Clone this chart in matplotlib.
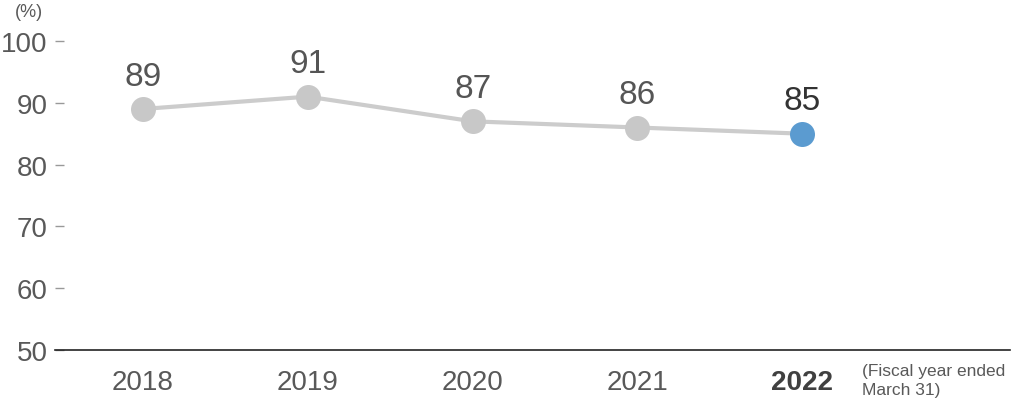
import matplotlib
matplotlib.use('Agg')
import matplotlib.pyplot as plt

# Datos
years = ['2018', '2019', '2020', '2021', '2022']
values = [89, 91, 87, 86, 85]
yticks = [50, 60, 70, 80, 90, 100]

plt.rcParams['font.family'] = ['Liberation Sans', 'DejaVu Sans']

grey_txt = '#595959'
fig = plt.figure(figsize=(10.14, 4.10), dpi=100)
ax = fig.add_axes([55 / 1014, 59 / 410, 955 / 1014, 309 / 410])

xs = list(range(len(years)))
ax.plot(xs, values, color='#cccccc', lw=3, zorder=2)
colors = ['#c8c8c8'] * (len(years) - 1) + ['#5b9bd0']
for x, v, c in zip(xs, values, colors):
    ax.plot(x, v, 'o', ms=18, color=c, mec='none', zorder=3)
    last = x == len(years) - 1
    ax.annotate(str(v), (x, v), xytext=(0, 12.5), textcoords='offset points',
                ha='center', va='bottom', fontsize=24,
                color='#333333' if last else '#555555')

ax.set_xlim(-0.534, 5.26)
ax.set_ylim(50, 100)
ax.set_yticks(yticks)
ax.tick_params(axis='y', direction='in', length=6.5, width=1, color='#999999',
               labelsize=20, labelcolor=grey_txt, pad=5.5)
ax.set_xticks(xs)
ax.set_xticklabels(years)
ax.tick_params(axis='x', length=0, labelsize=20, labelcolor=grey_txt, pad=14)
lbl = ax.get_xticklabels()[-1]
lbl.set_fontweight('bold')
lbl.set_color('#404040')

for s in ['left', 'top', 'right']:
    ax.spines[s].set_visible(False)
ax.spines['bottom'].set_color('#222222')
ax.spines['bottom'].set_linewidth(1.2)

fig.text(15 / 1014, 1 - 4 / 410, '(%)', fontsize=13, color=grey_txt,
         ha='left', va='top')
fig.text(862 / 1014, 1 - 364 / 410, '(Fiscal year ended\nMarch 31)',
         fontsize=12.5, color=grey_txt, ha='left', va='top', linespacing=1.3)

fig.savefig('out.png', dpi=100)
